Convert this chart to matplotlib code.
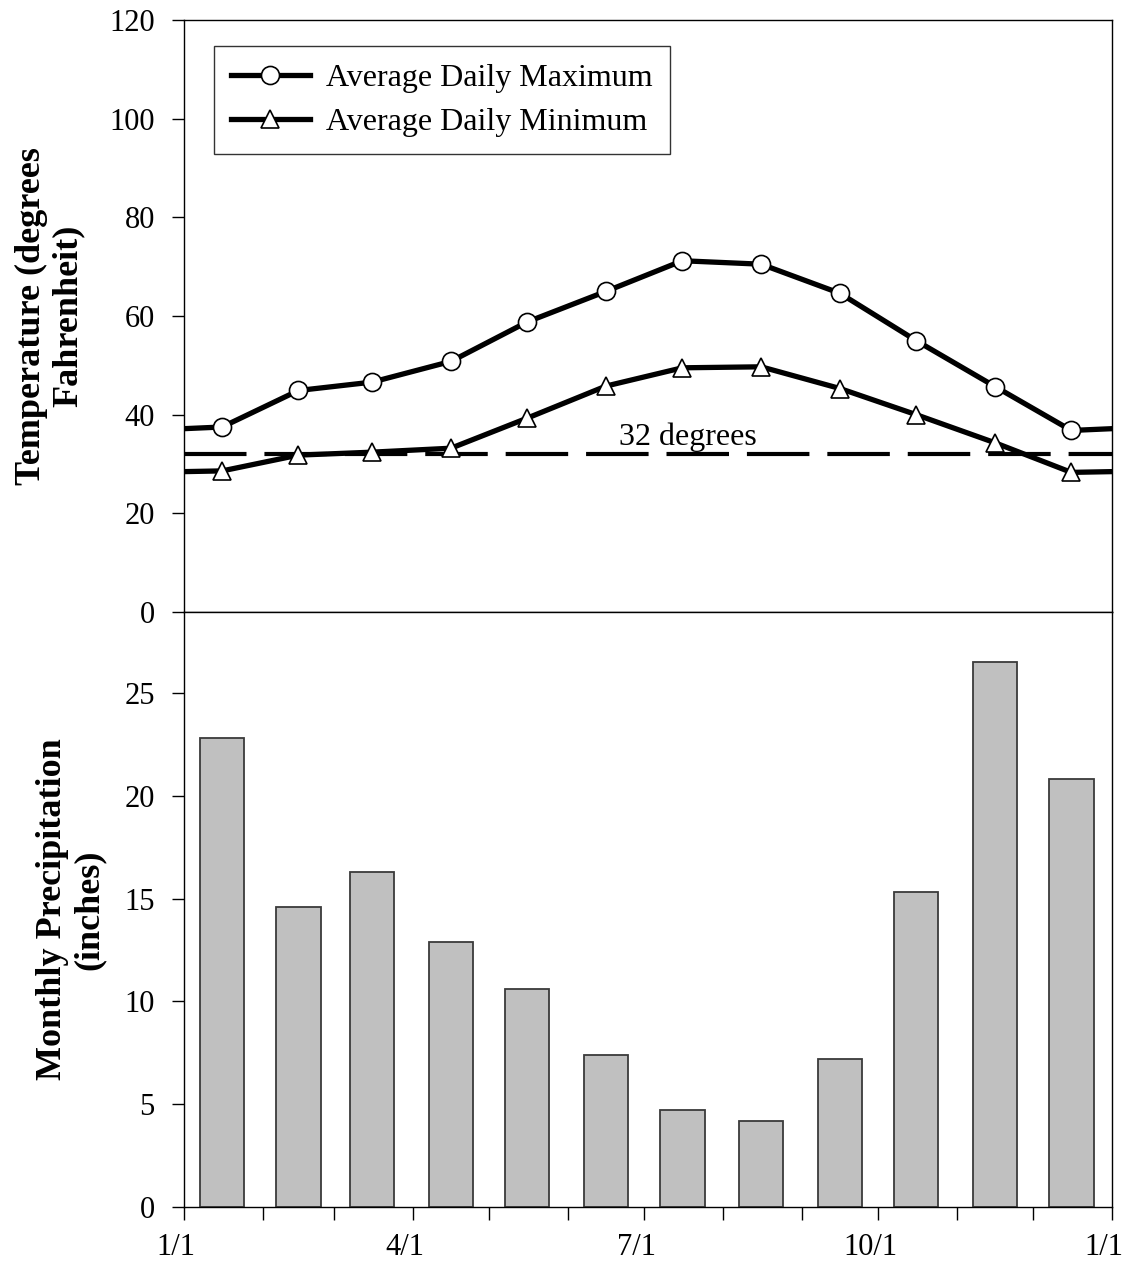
import matplotlib
matplotlib.use("Agg")
import matplotlib.pyplot as plt
import matplotlib.transforms as mtransforms

plt.rcParams['font.family'] = ['Liberation Serif', 'DejaVu Serif']

# mid-month day of year
days = [15, 45, 74, 105, 135, 166, 196, 227, 258, 288, 319, 349]
tmax = [37.5, 44.9, 46.6, 50.8, 58.8, 65.0, 71.2, 70.5, 64.6, 55.0, 45.7, 36.8]
tmin = [28.6, 31.8, 32.4, 33.2, 39.3, 45.8, 49.5, 49.7, 45.3, 40.0, 34.3, 28.3]
precip = [22.8, 14.6, 16.3, 12.9, 10.6, 7.4, 4.7, 4.2, 7.2, 15.3, 26.5, 20.8]

month_starts = [0, 31, 59, 90, 120, 151, 181, 212, 243, 273, 304, 334, 365]
month_labels = ['1/1', '', '', '4/1', '', '', '7/1', '', '', '10/1', '', '', '1/1']
freeze = 32

# wrap december / january so the lines run off both edges
wdays = [days[-1] - 365] + days + [days[0] + 365]
wmax = [tmax[-1]] + tmax + [tmax[0]]
wmin = [tmin[-1]] + tmin + [tmin[0]]

fig = plt.figure(figsize=(11.27, 12.65), dpi=100)
L, R = 184 / 1127, 1112 / 1127
ax1 = fig.add_axes([L, 1 - 612 / 1265, R - L, 592 / 1265])
ax2 = fig.add_axes([L, 1 - 1207 / 1265, R - L, 595 / 1265])

# --- temperature ---
ax1.axhline(freeze, color='black', lw=3.0, dashes=(15, 4.3), zorder=1)
ax1.plot(wdays, wmax, color='black', lw=3.8, marker='o', ms=13, mfc='white',
         mec='black', mew=1.2, label='Average Daily Maximum', zorder=3)
ax1.plot(wdays, wmin, color='black', lw=3.8, marker='^', ms=13, mfc='white',
         mec='black', mew=1.2, label='Average Daily Minimum', zorder=3)
ax1.text(198, 35.5, '32 degrees', fontsize=23, ha='center', va='center')

ax1.set_xlim(0, 365)
ax1.set_ylim(0, 120)
ax1.set_yticks(range(0, 121, 20))
ax1.tick_params(axis='x', bottom=False, labelbottom=False)
ax1.tick_params(axis='y', direction='out', length=9, width=1, pad=12, labelsize=22)
ax1.set_ylabel('Temperature (degrees\nFahrenheit)', fontsize=26, fontweight='bold',
               linespacing=1.15)
ax1.yaxis.set_label_coords(-0.1067, 0.5)
leg = ax1.legend(loc='upper left', bbox_to_anchor=(0.032, 0.956), borderaxespad=0,
                 fontsize=23, frameon=True, fancybox=False, handlelength=2.45,
                 labelspacing=0.45, borderpad=0.55, handletextpad=0.5)
leg.get_frame().set_edgecolor('black')
leg.get_frame().set_linewidth(1.0)

# --- precipitation ---
ax2.bar(days, precip, width=17.5, color='#c0c0c0', edgecolor='#3a3a3a', lw=1.3)
ax2.set_xlim(0, 365)
ax2.set_ylim(0, 28.94)
ax2.set_yticks(range(0, 26, 5))
ax2.set_xticks(month_starts)
ax2.set_xticklabels(month_labels)
ax2.tick_params(axis='y', direction='out', length=9, width=1, pad=12, labelsize=22)
ax2.tick_params(axis='x', direction='out', length=9, width=1, pad=10, labelsize=22)
ax2.set_ylabel('Monthly Precipitation\n(inches)', fontsize=26, fontweight='bold',
               linespacing=1.15)
ax2.yaxis.set_label_coords(-0.0841, 0.5)

shift = mtransforms.ScaledTranslation(-0.08, 0, fig.dpi_scale_trans)
for lab in ax2.get_xticklabels():
    lab.set_transform(lab.get_transform() + shift)

for ax in (ax1, ax2):
    for s in ax.spines.values():
        s.set_linewidth(1.0)

fig.savefig('out.png', dpi=100)
